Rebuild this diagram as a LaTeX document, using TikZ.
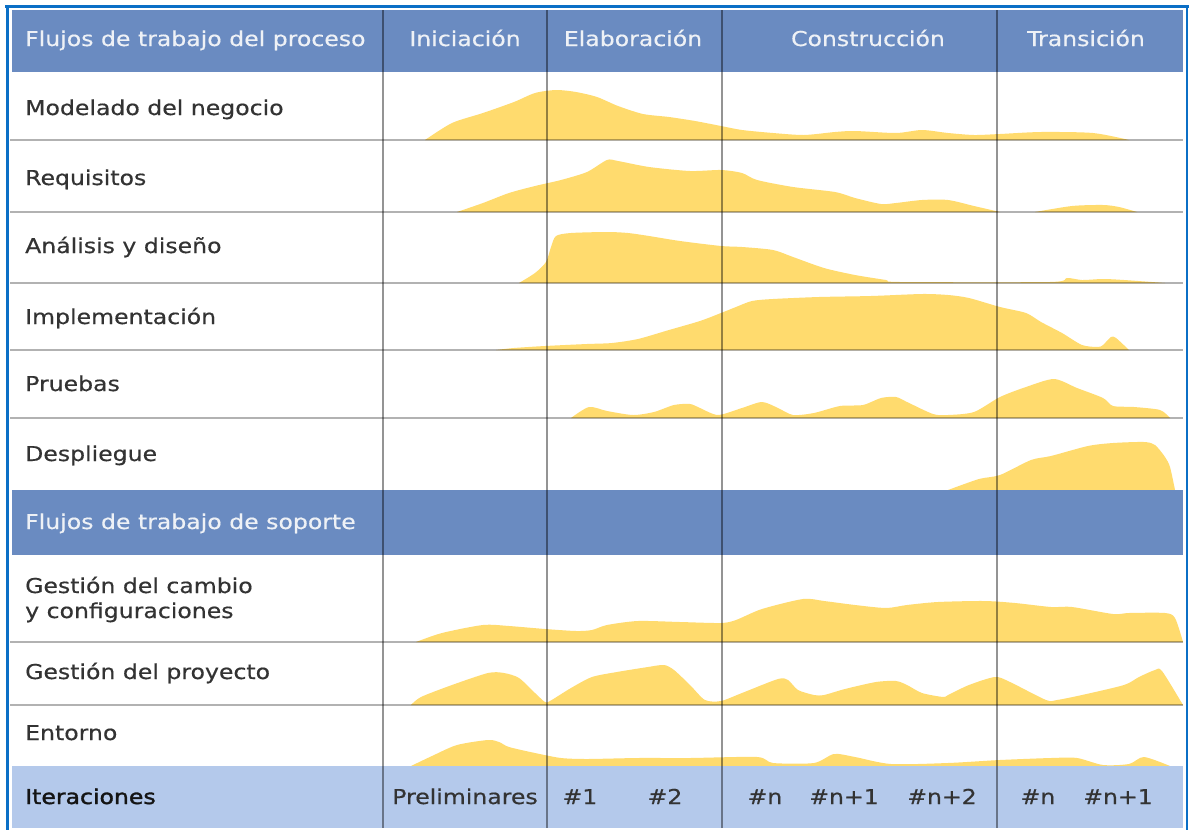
\documentclass[tikz,border=0pt]{standalone}
\usepackage{fontspec}
\setmainfont{DejaVu Sans}[FakeStretch=1.15,FakeBold=0.5]
\newfontfamily\iterfont{DejaVu Sans}[FakeStretch=1.15,FakeBold=1.6]
\newcommand\lblfont{\fontsize{20.5}{25}\selectfont}
\definecolor{frameblue}{HTML}{0B6FC6}
\definecolor{hdrblue}{HTML}{6A8BC1}
\definecolor{iterblue}{HTML}{B4C9EB}
\definecolor{wfyellow}{HTML}{FFDB6E}
\definecolor{txt}{HTML}{333333}
\definecolor{hdrtxt}{HTML}{EEF1F6}
\tikzset{
  wf/.style={fill=wfyellow},
  band/.style={fill=#1},
  lbl/.style={anchor=base west, inner sep=0pt, text=txt, font=\lblfont},
  hdrl/.style={anchor=base west, inner sep=0pt, text=hdrtxt, font=\lblfont},
  hdrc/.style={anchor=base, inner sep=0pt, text=hdrtxt, font=\lblfont},
  itl/.style={anchor=base, inner sep=0pt, text=txt, font=\lblfont},
  vline/.style={draw=black, draw opacity=0.42, line width=2.2pt},
  hline/.style={draw=black, draw opacity=0.3, line width=2.2pt},
  frame/.style={draw=frameblue, line width=#1},
  sm/.style={smooth, tension=0.45}
}
\begin{document}
\begin{tikzpicture}[x=1pt,y=-1pt]
\useasboundingbox (0,0) rectangle (1189,830);
\fill[white] (0,0) rectangle (1189,830);

% workflow curves
\fill[wf] plot[sm] coordinates {(425,140) (452,123) (483,113) (514,102) (535,93) (556,90) (576,92) (597,97) (618,106) (643,114) (669,117) (695,121) (721,126) (742,130) (773,133) (804,135) (835,132) (855,131) (896,133) (922,130) (948,133) (974,135) (1000,134) (1041,132) (1093,133) (1129,140)} -- cycle;

\fill[wf] plot[sm] coordinates {(457,212) (483,203) (509,193) (535,186) (561,180) (587,172) (607,160) (618,161) (649,167) (690,171) (721,170) (742,173) (757,180) (793,187) (835,192) (855,198) (881,204) (896,203) (922,200) (948,200) (974,206) (1000,212)} -- cycle;
\fill[wf] plot[sm] coordinates {(1035,212) (1072,206) (1103,205) (1119,207) (1137,212)} -- cycle;

\fill[wf] plot[sm] coordinates {(519,283) (535,273) (546,262) (551,247) (556,236) (571,233) (607,232) (628,233) (649,236) (680,241) (721,246) (742,247) (773,250) (793,257) (824,268) (855,275) (886,280) (900,282) (1050,282) (1067,278) (1082,280) (1103,279) (1124,280) (1165,283)} -- cycle;

\fill[wf] plot[sm] coordinates {(496,350) (514,348) (545,346) (587,344) (612,343) (638,339) (669,330) (700,321) (721,313) (736,307) (752,301) (773,299) (819,297) (871,296) (922,294) (948,295) (969,298) (1000,307) (1026,313) (1041,322) (1062,333) (1082,345) (1098,347) (1103,345) (1111,337) (1116,338) (1129,350)} -- cycle;

\fill[wf] plot[sm] coordinates {(571,418) (589,407) (607,411) (633,415) (654,412) (674,405) (690,404) (700,408) (718,415) (742,408) (762,402) (778,408) (793,415) (814,413) (840,406) (863,405) (881,398) (896,397) (907,402) (933,414) (948,415) (974,412) (1000,397) (1026,387) (1054,379) (1077,388) (1103,398) (1113,406) (1134,407) (1160,410) (1170,418)} -- cycle;

\fill[wf] plot[sm] coordinates {(948,490) (979,479) (1000,475) (1031,460) (1051,456) (1088,446) (1113,443) (1144,442) (1155,445) (1165,457) (1170,467) (1175,490)} -- cycle;

\fill[wf] plot[sm] coordinates {(416,642) (442,633) (483,625) (509,626) (545,629) (576,631) (592,630) (607,625) (638,621) (680,622) (721,623) (736,620) (762,609) (803,599) (824,601) (855,605) (886,608) (907,605) (938,602) (984,601) (1015,603) (1051,607) (1072,607) (1113,614) (1129,613) (1165,613) (1175,618) (1183,642)} -- cycle;

\fill[wf] plot[sm] coordinates {(411,705) (421,697) (452,685) (488,673) (504,673) (519,678) (535,693) (545,702) (550,701) (571,688) (592,677) (617,672) (648,667) (664,665) (674,670) (690,685) (705,700) (721,701) (742,693) (778,679) (788,680) (798,690) (814,695) (824,695) (845,689) (876,682) (896,681) (907,685) (922,693) (943,697) (948,695) (969,685) (995,677) (1010,682) (1046,700) (1057,700) (1082,695) (1124,685) (1139,677) (1155,670) (1162,671) (1183,705)} -- cycle;

\fill[wf] plot[sm] coordinates {(411,766) (432,756) (457,745) (488,740) (499,742) (509,747) (535,753) (561,758) (587,759) (638,758) (690,758) (757,757) (773,763) (814,763) (834,754) (855,757) (891,764) (948,763) (1000,760) (1051,758) (1077,758) (1103,765) (1129,764) (1144,757) (1170,766)} -- cycle;

% bands
\fill[band=hdrblue] (12,10) rectangle (1183,72);
\fill[band=hdrblue] (12,490) rectangle (1183,555);
\fill[band=iterblue] (12,766) rectangle (1183,828);

% grid
\foreach \yy in {140,212,283,350,418,642,705}
  \draw[hline] (10,\yy) -- (1183,\yy);
\foreach \xx in {383,547,722,997}
  \draw[vline] (\xx,10) -- (\xx,828);

% frame
\draw[frame=3pt] (5,6.5) -- (1189,6.5);
\draw[frame=3pt] (7.3,5) -- (7.3,830);
\draw[frame=2pt] (1187,5) -- (1187,830);

% header texts
\node[hdrl] (hproc) at (25,46) {Flujos de trabajo del proceso};
\node[hdrc] (hini) at (465,46) {Iniciación};
\node[hdrc] (helab) at (633,46) {Elaboración};
\node[hdrc] (hcons) at (868,46) {Construcción};
\node[hdrc] (htran) at (1086,46) {Transición};

% row labels
\node[lbl] (lmod) at (25,115) {Modelado del negocio};
\node[lbl] (lreq) at (25,185) {Requisitos};
\node[lbl] (lana) at (25,253) {Análisis y diseño};
\node[lbl] (limp) at (25,324) {Implementación};
\node[lbl] (lpru) at (25,391) {Pruebas};
\node[lbl] (ldes) at (25,461) {Despliegue};
\node[hdrl] (hsop) at (25,529) {Flujos de trabajo de soporte};
\node[lbl] (lges1) at (25,593) {Gestión del cambio};
\node[lbl] (lges2) at (25,618) {y configuraciones};
\node[lbl] (lpro) at (25,679) {Gestión del proyecto};
\node[lbl] (lent) at (25,740) {Entorno};

% iterations
\node[anchor=base west, inner sep=0pt, text=black!92, font={\iterfont\lblfont}] (liter) at (25,804) {Iteraciones};
\node[itl] (ipre) at (465,804) {Preliminares};
\node[itl] (i1) at (580,804) {\#1};
\node[itl] (i2) at (665,804) {\#2};
\node[itl] (in1) at (765,804) {\#n};
\node[itl] (in2) at (844,804) {\#n+1};
\node[itl] (in3) at (942,804) {\#n+2};
\node[itl] (in4) at (1038,804) {\#n};
\node[itl] (in5) at (1118,804) {\#n+1};
\end{tikzpicture}
\end{document}
